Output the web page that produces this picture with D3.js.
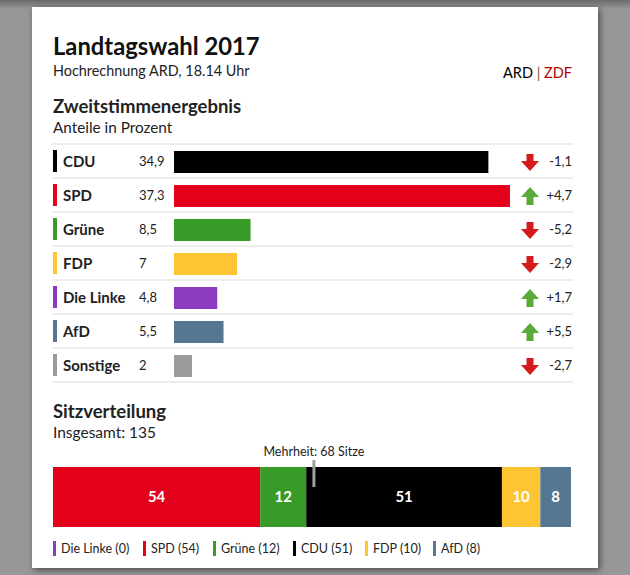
<!DOCTYPE html>
<html>
<head>
<meta charset="utf-8">
<script src="https://cdn.jsdelivr.net/npm/d3@7"></script>
<style>
  body { margin: 0; background: #979797; }
  svg { display: block; font-family: Lato, "Open Sans", sans-serif; }
</style>
</head>
<body>
<div id="chart"></div>
<script>
// --- data ---
const parties = ['CDU', 'SPD', 'Grüne', 'FDP', 'Die Linke', 'AfD', 'Sonstige'];
const shares = [34.9, 37.3, 8.5, 7, 4.8, 5.5, 2];
const changes = [-1.1, 4.7, -5.2, -2.9, 1.7, 5.5, -2.7];
const partyColors = ['#000000', '#e2001a', '#389a27', '#fdc533', '#8a3bbf', '#567791', '#9b9b9b'];

const seatParties = ['SPD', 'Grüne', 'CDU', 'FDP', 'AfD'];
const seats = [54, 12, 51, 10, 8];
const totalSeats = 135;
const majority = 68;
const legendParties = ['Die Linke', 'SPD', 'Grüne', 'CDU', 'FDP', 'AfD'];
const legendSeats = [0, 54, 12, 51, 10, 8];

const colorOf = d3.scaleOrdinal(parties, partyColors);
const fmt = v => String(v).replace('.', ',');

const width = 630, height = 575;
const svg = d3.select('#chart').append('svg')
  .attr('width', width).attr('height', height);

// background + card with a shadow
const defs = svg.append('defs');
const f = defs.append('filter').attr('id', 'shadow').attr('x', -0.1).attr('y', -0.1).attr('width', 1.2).attr('height', 1.2);
f.append('feDropShadow').attr('dx', 2).attr('dy', 2).attr('stdDeviation', 3).attr('flood-color', '#000').attr('flood-opacity', 0.5);
const g0 = defs.append('linearGradient').attr('id', 'topshade').attr('x1', 0).attr('x2', 0).attr('y1', 0).attr('y2', 1);
g0.append('stop').attr('offset', 0).attr('stop-color', '#6a6a6a');
g0.append('stop').attr('offset', 1).attr('stop-color', '#979797');

svg.append('rect').attr('width', width).attr('height', height).attr('fill', '#979797');
svg.append('rect').attr('width', width).attr('height', 9).attr('fill', 'url(#topshade)');
svg.append('rect').attr('x', 32).attr('y', 7).attr('width', 566).attr('height', 561)
  .attr('fill', '#fff').attr('filter', 'url(#shadow)');

// header
svg.append('text').attr('x', 53).attr('y', 55).attr('font-size', 23.8).attr('font-weight', 700)
  .attr('fill', '#111').text('Landtagswahl 2017');
svg.append('text').attr('x', 53).attr('y', 76).attr('font-size', 14.4).attr('fill', '#222')
  .text('Hochrechnung ARD, 18.14 Uhr');
const src = svg.append('text').attr('x', 572).attr('y', 78).attr('font-size', 14.5).attr('text-anchor', 'end');
src.append('tspan').attr('fill', '#000').text('ARD ');
src.append('tspan').attr('fill', '#8b4a2b').text('|');
src.append('tspan').attr('fill', '#b30000').text(' ZDF');

svg.append('text').attr('x', 53).attr('y', 113).attr('font-size', 18.5).attr('font-weight', 700)
  .attr('fill', '#222').text('Zweitstimmenergebnis');
svg.append('text').attr('x', 53).attr('y', 133).attr('font-size', 15.3).attr('fill', '#222')
  .text('Anteile in Prozent');

// vote share rows
const y = d3.scaleBand().domain(parties).range([144, 382]);
const x = d3.scaleLinear().domain([0, d3.max(shares)]).range([174, 510]);

svg.append('g').selectAll('line').data([parties[0]].concat(parties)).join('line')
  .attr('x1', 52).attr('x2', 573)
  .attr('y1', (d, i) => i === 0 ? y(d) : y(d) + y.bandwidth())
  .attr('y2', (d, i) => i === 0 ? y(d) : y(d) + y.bandwidth())
  .attr('stroke', '#dedbd4').attr('stroke-width', 1);

const rows = svg.append('g').selectAll('g').data(parties).join('g')
  .attr('transform', d => `translate(0,${y(d)})`);

rows.append('rect').attr('x', 53).attr('y', 6).attr('width', 4).attr('height', 22)
  .attr('fill', d => colorOf(d));
rows.append('text').attr('x', 63).attr('y', 23).attr('font-size', 15).attr('font-weight', 700)
  .attr('fill', '#222').text(d => d);
rows.append('text').attr('x', 139).attr('y', 22).attr('font-size', 13).attr('fill', '#222')
  .text((d, i) => fmt(shares[i]));
rows.append('rect').attr('x', x(0)).attr('y', 7)
  .attr('width', (d, i) => x(shares[i]) - x(0)).attr('height', 22)
  .attr('fill', d => colorOf(d));

// arrows
const down = 'M-3.5,-8 L3.5,-8 L3.5,-1 L9,-1 L0,9 L-9,-1 L-3.5,-1 Z';
const up = 'M-3.5,9 L3.5,9 L3.5,1 L9,1 L0,-9 L-9,1 L-3.5,1 Z';
rows.append('path')
  .attr('transform', 'translate(530,18)')
  .attr('d', (d, i) => changes[i] < 0 ? down : up)
  .attr('fill', (d, i) => changes[i] < 0 ? '#d41a1a' : '#5aaa3a');
rows.append('text').attr('x', 572).attr('y', 22).attr('font-size', 13).attr('text-anchor', 'end')
  .attr('fill', '#222')
  .text((d, i) => (changes[i] > 0 ? '+' : '') + fmt(changes[i]));

// seats
svg.append('text').attr('x', 53).attr('y', 418).attr('font-size', 18.5).attr('font-weight', 700)
  .attr('fill', '#222').text('Sitzverteilung');
svg.append('text').attr('x', 53).attr('y', 438).attr('font-size', 15.5).attr('fill', '#222')
  .text('Insgesamt: ' + totalSeats);

const sx = d3.scaleLinear().domain([0, totalSeats]).range([53, 571]);
const cum = d3.cumsum(seats);
const seatData = seatParties.map((p, i) => ({ party: p, n: seats[i], x0: cum[i] - seats[i], x1: cum[i] }));

svg.append('g').selectAll('rect').data(seatData).join('rect')
  .attr('x', d => sx(d.x0)).attr('y', 467)
  .attr('width', d => sx(d.x1) - sx(d.x0)).attr('height', 60)
  .attr('fill', d => colorOf(d.party));
svg.append('g').selectAll('text').data(seatData).join('text')
  .attr('x', d => (sx(d.x0) + sx(d.x1)) / 2).attr('y', 502)
  .attr('text-anchor', 'middle').attr('font-size', 15).attr('font-weight', 700)
  .attr('fill', '#fff').text(d => d.n);

// majority marker
svg.append('line').attr('x1', sx(majority)).attr('x2', sx(majority))
  .attr('y1', 460).attr('y2', 487).attr('stroke', '#a0a0a0').attr('stroke-width', 3);
svg.append('text').attr('x', sx(majority)).attr('y', 456).attr('text-anchor', 'middle')
  .attr('font-size', 12.5).attr('fill', '#222').text(`Mehrheit: ${majority} Sitze`);

// legend
const legendX = [53, 143, 213, 293, 365, 433];
const leg = svg.append('g').selectAll('g').data(legendParties).join('g')
  .attr('transform', (d, i) => `translate(${legendX[i]},541)`);
leg.append('rect').attr('width', 3).attr('height', 15).attr('fill', d => colorOf(d));
leg.append('text').attr('x', 8).attr('y', 12).attr('font-size', 12.5).attr('fill', '#222')
  .text((d, i) => `${d} (${legendSeats[i]})`);
</script>
</body>
</html>
